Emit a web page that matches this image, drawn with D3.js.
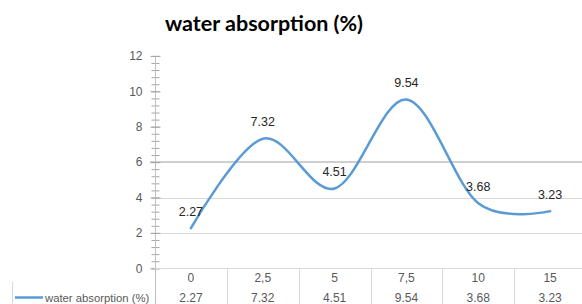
<!DOCTYPE html>
<html>
<head>
<meta charset="utf-8">
<script src="https://cdn.jsdelivr.net/npm/d3@7"></script>
<style>
html,body{margin:0;padding:0;background:#fff;}
svg{display:block;}
</style>
</head>
<body>
<svg id="chart" width="582" height="304"></svg>
<script>
const title = "water absorption (%)";
const seriesName = "water absorption (%)";
const categories = ["0", "2,5", "5", "7,5", "10", "15"];
const values = [2.27, 7.32, 4.51, 9.54, 3.68, 3.23];
const valueLabels = ["2.27", "7.32", "4.51", "9.54", "3.68", "3.23"];
const yTicks = [0, 2, 4, 6, 8, 10, 12];
const gridValues = [2, 4];
const strongGridValues = [6];

const svg = d3.select("#chart");
const blue = "#5B9BD5";
const font = "'Liberation Sans', Arial, sans-serif";

const x = d3.scaleBand().domain(categories).range([155, 586]).paddingInner(0).paddingOuter(0);
const y = d3.scaleLinear().domain([0, 12]).range([268.3, 55.9]);
const cx = c => x(c) + x.bandwidth() / 2;

// title
svg.append("text")
  .attr("x", 264).attr("y", 31)
  .attr("text-anchor", "middle")
  .attr("font-family", "Lato, 'Open Sans', sans-serif")
  .attr("font-weight", "bold")
  .attr("font-size", 21.5)
  .attr("fill", "#000")
  .text(title);

// gridlines
svg.append("g").selectAll("line").data(gridValues).join("line")
  .attr("x1", 155).attr("x2", 582)
  .attr("y1", d => Math.round(y(d)) + 0.5).attr("y2", d => Math.round(y(d)) + 0.5)
  .attr("stroke", "#d9d9d9").attr("stroke-width", 1);
svg.append("g").selectAll("line").data(strongGridValues).join("line")
  .attr("x1", 150).attr("x2", 582)
  .attr("y1", d => y(d)).attr("y2", d => y(d))
  .attr("stroke", "#cfcfcf").attr("stroke-width", 2);

// y axis via d3.axisLeft
const minorTicks = d3.range(0, 12.001, 0.4);
const axisG = svg.append("g").attr("transform", "translate(155.5,0)");
axisG.call(d3.axisLeft(y).tickValues(minorTicks).tickSize(4).tickFormat(""))
  .call(g => g.select(".domain").remove())
  .call(g => g.selectAll(".tick line").attr("x1", -4).attr("x2", 4).attr("stroke", "#a6a6a6"));
axisG.append("line").attr("x1", 0).attr("x2", 0).attr("y1", y(12)).attr("y2", 304).attr("stroke", "#bfbfbf");

const labG = svg.append("g").attr("transform", "translate(155.5,0)");
labG.call(d3.axisLeft(y).tickValues(yTicks).tickSize(4).tickPadding(9).tickFormat(d3.format("d")))
  .call(g => g.select(".domain").remove())
  .call(g => g.selectAll(".tick line").attr("x1", -5).attr("x2", 5).attr("stroke", "#a6a6a6"))
  .call(g => g.selectAll(".tick text").attr("font-family", font).attr("font-size", 12).attr("fill", "#595959"));

// data table
const tbl = svg.append("g");
tbl.append("line").attr("x1", 155).attr("x2", 582).attr("y1", 268.5).attr("y2", 268.5).attr("stroke", "#d9d9d9");
tbl.selectAll("line.v").data(categories.slice(1)).join("line").attr("class", "v")
  .attr("x1", d => Math.round(x(d)) + 0.5).attr("x2", d => Math.round(x(d)) + 0.5)
  .attr("y1", 268).attr("y2", 304).attr("stroke", "#d9d9d9");
tbl.append("line").attr("x1", 12.5).attr("x2", 12.5).attr("y1", 282).attr("y2", 304).attr("stroke", "#d9d9d9");
tbl.selectAll("text.cat").data(categories).join("text").attr("class", "cat")
  .attr("x", d => cx(d)).attr("y", 282).attr("text-anchor", "middle")
  .attr("font-family", font).attr("font-size", 12).attr("fill", "#595959").text(d => d);
tbl.selectAll("text.val").data(valueLabels).join("text").attr("class", "val")
  .attr("x", (d, i) => cx(categories[i])).attr("y", 302).attr("text-anchor", "middle")
  .attr("font-family", font).attr("font-size", 12).attr("fill", "#595959").text(d => d);
tbl.append("line").attr("x1", 15).attr("x2", 43).attr("y1", 297.5).attr("y2", 297.5)
  .attr("stroke", blue).attr("stroke-width", 2.5);
tbl.append("text").attr("x", 45).attr("y", 301.5)
  .attr("font-family", font).attr("font-size", 11.3).attr("fill", "#595959").text(seriesName);

// line
const line = d3.line()
  .x((d, i) => cx(categories[i]))
  .y(d => y(d))
  .curve(d3.curveCardinal.tension(0));
svg.append("path").datum(values)
  .attr("d", line).attr("fill", "none")
  .attr("stroke", blue).attr("stroke-width", 2.5).attr("stroke-linecap", "round");

// data labels
svg.append("g").selectAll("text").data(values).join("text")
  .attr("x", (d, i) => cx(categories[i]))
  .attr("y", d => y(d) - 12.5)
  .attr("text-anchor", "middle")
  .attr("font-family", font).attr("font-size", 12.5).attr("fill", "#262626")
  .text((d, i) => valueLabels[i]);
</script>
</body>
</html>
